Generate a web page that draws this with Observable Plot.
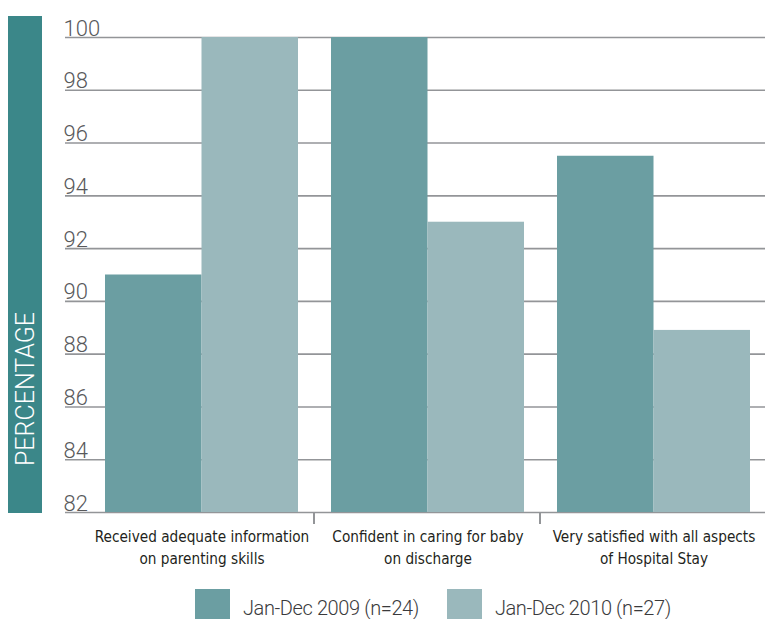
<!DOCTYPE html>
<html>
<head>
<meta charset="utf-8">
<script src="https://cdn.jsdelivr.net/npm/d3@7"></script>
<script src="https://cdn.jsdelivr.net/npm/@observablehq/plot@0.6"></script>
<style>
  body { margin: 0; background: #fff; }
  #wrap { position: relative; width: 769px; height: 619px; overflow: hidden; font-family: Roboto, "Liberation Sans", sans-serif; }
  #wrap > svg.plot { position: absolute; left: 0; top: 0; }
  #side { position: absolute; left: 0; top: 0; }
  #legend { position: absolute; left: 195px; top: 589px; display: flex; align-items: flex-start; }
  #legend .sw { width: 35px; height: 35px; margin-right: 13px; }
  #legend .lb { font-size: 20px; font-weight: 300; letter-spacing: -0.4px; color: #3a3a3c; line-height: 28px; margin-top: 5px; margin-right: 28px; white-space: nowrap; }
  .cond text { font-stretch: condensed; }
</style>
</head>
<body>
<div id="wrap">
  <svg id="side" width="60" height="560">
    <rect x="8" y="16" width="34" height="497" fill="#3b8789"></rect>
    <text transform="translate(25,389) rotate(-90)" text-anchor="middle" dominant-baseline="central"
          fill="#fff" font-size="25" font-weight="300" font-family="Roboto, 'Liberation Sans', sans-serif">PERCENTAGE</text>
  </svg>
  <div id="legend"></div>
</div>
<script>
// Survey categories (tick labels, two lines each)
const categories = [
  "Received adequate information\non parenting skills",
  "Confident in caring for baby\non discharge",
  "Very satisfied with all aspects\nof Hospital Stay"
];
const seriesNames = ["Jan-Dec 2009 (n=24)", "Jan-Dec 2010 (n=27)"];
const values2009 = [91, 100, 95.5];
const values2010 = [100, 93, 88.9];
const yTicks = [82, 84, 86, 88, 90, 92, 94, 96, 98, 100];
const seriesColors = ["#6b9ea2", "#9ab8bc"];

const baseline = yTicks[0];
const rows2009 = categories.map((c, i) => ({category: c, series: seriesNames[0], value: values2009[i]}));
const rows2010 = categories.map((c, i) => ({category: c, series: seriesNames[1], value: values2010[i]}));

const chart = Plot.plot({
  width: 769,
  height: 580,
  marginTop: 37,
  marginBottom: 68,
  marginLeft: 65,
  marginRight: 4,
  style: {background: "transparent", overflow: "visible", fontFamily: "Roboto, 'Liberation Sans', sans-serif"},
  x: {domain: categories, range: [88.5, 766.5], paddingInner: 33 / 226, paddingOuter: 16.5 / 226, axis: null, label: null},
  y: {domain: [baseline, yTicks[yTicks.length - 1]], axis: null, label: null},
  color: {domain: seriesNames, range: seriesColors},
  marks: [
    Plot.ruleY(yTicks, {stroke: "#939598", strokeWidth: 1.6}),
    // each category band holds the 2009 bar on its left half and the 2010 bar on its right half
    Plot.barY(rows2009, {x: "category", y1: () => baseline, y2: "value", fill: "series", insetRight: 96.5}),
    Plot.barY(rows2010, {x: "category", y1: () => baseline, y2: "value", fill: "series", insetLeft: 96.5}),
    // short separators below the axis between category groups
    Plot.ruleX(categories.slice(0, -1), {x: d => d, dx: 112, y1: () => baseline, y2: () => baseline, insetBottom: -12, stroke: "#939598", strokeWidth: 2}),
    Plot.axisY(yTicks, {
      tickSize: 0, textAnchor: "start", dx: 7, lineAnchor: "bottom", dy: -2, label: null,
      fontSize: 22, fontWeight: 300, fill: "#58595b"
    }),
    Plot.axisX({
      tickSize: 0, tickPadding: 13, fontSize: 15.2, lineHeight: 1.5, label: null,
      className: "cond",
      fontFamily: "'DejaVu Sans Condensed', 'Liberation Sans Narrow', 'Liberation Sans', sans-serif", fill: "#231f20"
    })
  ]
});
chart.classList.add("plot");
document.getElementById("wrap").insertBefore(chart, document.getElementById("side"));

const legend = document.getElementById("legend");
seriesNames.forEach((name, i) => {
  const sw = document.createElement("div");
  sw.className = "sw";
  sw.style.background = seriesColors[i];
  const lb = document.createElement("div");
  lb.className = "lb";
  lb.textContent = name;
  legend.append(sw, lb);
});
</script>
</body>
</html>
